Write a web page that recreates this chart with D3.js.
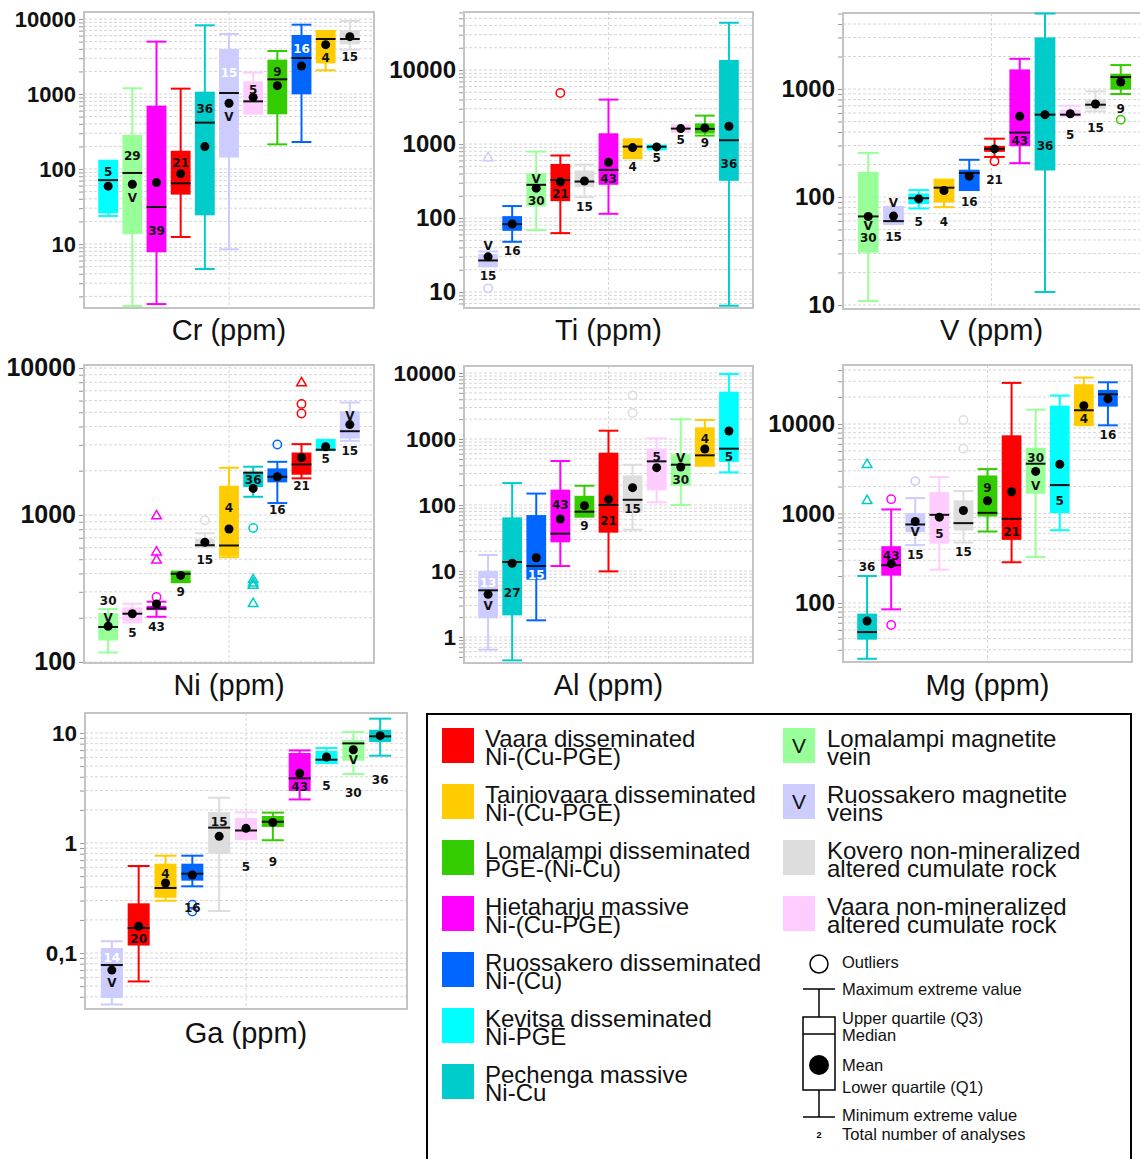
<!DOCTYPE html>
<html><head><meta charset="utf-8">
<script src="https://cdn.jsdelivr.net/npm/d3@7"></script>
<style>body{margin:0;background:#fff}</style>
</head><body><svg id="c" width="1140" height="1159"></svg>
<script>
// ---------- categories ----------
const groupKeys = ["VD","TD","LD","HM","RD","KD","PM","LV","RV","KO","VN"];
const groupColors = ["#ff0000","#ffcc00","#33cc00","#ff00ff","#0066ff","#00ffff","#00cccc","#99ff99","#ccccff","#dddddd","#ffccff"];
const legendLabels = [
  ["Vaara disseminated","Ni-(Cu-PGE)"],
  ["Tainiovaara disseminated","Ni-(Cu-PGE)"],
  ["Lomalampi disseminated","PGE-(Ni-Cu)"],
  ["Hietaharju massive","Ni-(Cu-PGE)"],
  ["Ruossakero disseminated","Ni-(Cu)"],
  ["Kevitsa disseminated","Ni-PGE"],
  ["Pechenga massive","Ni-Cu"],
  ["Lomalampi magnetite","vein"],
  ["Ruossakero magnetite","veins"],
  ["Kovero non-mineralized","altered cumulate rock"],
  ["Vaara non-mineralized","altered cumulate rock"]
];
const veinGroups = ["LV","RV"];
const boxKeyLabels = ["Outliers","Maximum extreme value","Upper quartile (Q3)","Median","Mean","Lower quartile (Q1)","Minimum extreme value","Total number of analyses"];

// ---------- data rows: [group, min, Q1, median, Q3, max, mean, n, n-label value, V-label value] ----------
const crRows = [
  ["KD",23.6,25.6,71,129,129,59,5,92,null],
  ["LV",1.49,13.6,88.5,284,1191,62.5,29,151,42],
  ["HM",1.58,7.74,31.1,699,4990,65.8,39,14.9,null],
  ["VD",12.4,45.5,64.4,175,1178,86.7,21,121,null],
  ["PM",4.64,24.1,415,1074,8240,199,36,644,null],
  ["RV",8.49,142,1031,3981,6310,752,15,1923,499],
  ["VN",547,547,798,1476,1923,903,5,1153,null],
  ["LD",213,536,1570,2872,3743,1291,9,1986,null],
  ["RD",229,990,3020,6120,8400,2360,16,3981,null],
  ["TD",2070,2564,5410,6920,6920,4550,4,3083,null],
  ["KO",3900,4590,5410,7060,9400,5810,15,3150,null]
];
const crOut = [];
const crWhite = ["RV","RD"];

const tiRows = [
  ["RV",22.2,22.2,26.7,32.5,35.3,29.9,15,16.7,42.5],
  ["RD",47.7,67.1,82.6,106,145,83,16,36,null],
  ["LV",68.5,143,281,403,791,253,30,173,338],
  ["VD",62.5,169,325,538,699,308,21,210,null],
  ["KO",191,261,311,438,527,316,15,143,null],
  ["HM",114,281,447,1397,3981,567,43,338,null],
  ["TD",643,643,923,1159,1159,895,4,495,null],
  ["KD",849,849,920,953,953,913,5,649,null],
  ["VN",1455,1455,1614,1791,1791,1614,5,1136,null],
  ["LD",1300,1381,1600,1905,2420,1650,9,1045,null],
  ["PM",6.53,318,1125,13650,43500,1738,36,550,null]
];
const tiOut = [["RV",649,"t"],["RV",11.2,"o"],["VD",4890,"o"]];
const tiWhite = [];

const vRows = [
  ["LV",10.9,30.5,66.1,171,256,66,30,42.3,53.7],
  ["RV",56.1,56.1,59.8,81.1,81.1,66.6,15,42.9,88.3],
  ["KD",78.3,85.9,97.5,108,116,96,5,58.9,null],
  ["TD",80.5,88.9,122,145,145,115,4,58.9,null],
  ["RD",116,116,167,179,221,156,16,89.6,null],
  ["VD",235,262,279,297,347,279,21,145,null],
  ["HM",206,295,395,1520,1905,559,43,335,null],
  ["PM",13.2,176,579,3006,5000,579,36,299,null],
  ["VN",558,558,579,644,701,591,5,381,null],
  ["KO",622,650,716,796,951,726,15,436,null],
  ["LD",899,986,1291,1386,1667,1161,9,653,null]
];
const vOut = [["VD",214,"o"],["LD",520,"o"]];
const vWhite = [];

const niRows = [
  ["LV",116,140,173,215,229,175,30,261,201],
  ["VN",186,190,213,235,249,213,5,159,null],
  ["HM",203,225,231,241,257,248,43,175,null],
  ["LD",349,349,398,412,412,388,9,302,null],
  ["KO",604,604,623,690,751,652,15,500,null],
  ["TD",516,527,620,1581,2094,803,4,1128,null],
  ["PM",1330,1548,1940,1967,2130,1517,36,1730,null],
  ["RD",1205,1667,1820,2075,2300,1820,16,1081,null],
  ["VD",1775,1879,2208,2661,3034,2460,21,1574,null],
  ["KD",2760,2760,2780,3243,3243,2910,5,2410,null],
  ["RV",3197,3311,3715,5080,5820,4121,15,2735,4770]
];
const niOut = [["HM",277,"o"],["HM",984,"t"],["HM",558,"t"],["HM",492,"t"],["KO",920,"o"],
  ["PM",817,"o"],["PM",362,"t"],["PM",344,"t"],["PM",331,"t"],["PM",249,"t"],["RD",3020,"o"],
  ["VD",5700,"o"],["VD",4900,"o"],["VD",7910,"t"]];
const niWhite = [];

const alRows = [
  ["RV",0.643,1.92,5.1,10,17.5,4.43,13,6.57,2.98],
  ["PM",0.443,2.13,13.7,65,215,13.1,27,4.64,null],
  ["RD",1.79,7.4,11.9,70.4,149,15.9,15,8.79,null],
  ["HM",11.9,27.2,36.8,171,464,61.4,43,101,null],
  ["LD",66.5,66.5,79.2,138,196,97.8,9,49.2,null],
  ["VD",9.88,38.1,100,621,1337,122,21,58,null],
  ["KO",42.3,76.6,120,281,408,183,15,88,null],
  ["VN",110,167,459,714,1023,368,5,546,null],
  ["LV",100,196,408,586,1986,377,30,242,527],
  ["TD",394,394,566,1503,1941,705,4,1023,null],
  ["KD",313,449,714,5214,9660,1322,5,546,null]
];
const alOut = [["KO",4590,"o"],["KO",2477,"o"]];
const alWhite = ["RV","RD"];

const mgRows = [
  ["PM",23.8,38.9,47.3,76,200,62.9,36,253,null],
  ["HM",84.9,202,264,431,1109,275,43,336,null],
  ["RV",443,618,754,1008,1486,813,15,344,624],
  ["VN",236,461,966,1734,2553,910,5,592,null],
  ["KO",473,646,780,1400,1778,1081,15,376,null],
  ["LD",629,925,1016,2661,3133,1387,9,1937,null],
  ["VD",285,507,871,7470,28770,1750,21,624,null],
  ["LV",327,1660,3597,5433,14470,2951,30,4198,2055],
  ["KD",650,1008,2075,16030,20760,3542,5,1387,null],
  ["TD",9700,9750,14230,27800,33000,16030,4,11570,null],
  ["RD",9660,15630,21480,24040,29230,19050,16,7660,null]
];
const mgOut = [["PM",3508,"t"],["PM",1387,"t"],["HM",1445,"o"],["HM",56.8,"o"],["RV",2300,"o"],["KO",11090,"o"],["KO",5295,"o"]];
const mgWhite = [];

const gaRows = [
  ["RV",0.0341,0.039,0.0778,0.111,0.128,0.07,14,0.090,0.054],
  ["VD",0.0552,0.117,0.169,0.283,0.618,0.175,20,0.134,null],
  ["TD",0.299,0.318,0.39,0.649,0.767,0.433,4,0.53,null],
  ["RD",0.404,0.455,0.526,0.649,0.767,0.512,16,0.257,null],
  ["KO",0.241,0.8,1.38,1.91,2.58,1.15,15,1.55,null],
  ["VN",1.09,1.09,1.3,1.69,1.9,1.36,5,0.605,null],
  ["LD",1.06,1.4,1.56,1.76,1.89,1.54,9,0.681,null],
  ["HM",2.49,2.97,3.87,6.58,6.95,4.3,43,3.25,null],
  ["KD",5.33,5.33,5.72,6.86,7.31,6.05,5,3.32,null],
  ["LV",4.24,5.6,8.05,8.64,10.2,7.05,30,2.87,5.73],
  ["PM",6.22,8.28,9.33,10.7,13.5,9.46,36,3.77,null]
];
const gaOut = [["RD",0.275,"o"],["RD",0.238,"o"]];
const gaWhite = ["RV"];

// ---------- layout (positions only) ----------
const layout = [
  {title:"Cr (ppm)", rows:crRows, out:crOut, white:crWhite, x0:84, x1:374, y0:12, y1:308, lo:1.40, hi:12400, fs:22, ty:340},
  {title:"Ti (ppm)", rows:tiRows, out:tiOut, white:tiWhite, x0:464, x1:753, y0:12, y1:308, lo:6.08, hi:60800, fs:24, ty:340},
  {title:"V (ppm)",  rows:vRows,  out:vOut,  white:vWhite,  x0:843, x1:1146, y0:13, y1:309, lo:9.18, hi:5060, fs:24, ty:340},
  {title:"Ni (ppm)", rows:niRows, out:niOut, white:niWhite, x0:84, x1:374, y0:365, y1:663, lo:98.4, hi:10480, fs:25, ty:695},
  {title:"Al (ppm)", rows:alRows, out:alOut, white:alWhite, x0:464, x1:753, y0:366, y1:663, lo:0.404, hi:12770, fs:22.5, ty:695},
  {title:"Mg (ppm)", rows:mgRows, out:mgOut, white:mgWhite, x0:843, x1:1132, y0:365, y1:662, lo:21.9, hi:45600, fs:24, ty:695},
  {title:"Ga (ppm)", rows:gaRows, out:gaOut, white:gaWhite, x0:85, x1:407, y0:713, y1:1009, lo:0.031, hi:15.2, fs:22.5, ty:1043}
];

const svg = d3.select("#c");
const colorOf = k => groupColors[groupKeys.indexOf(k)];
const isDecade = v => Math.abs(Math.log10(v) - Math.round(Math.log10(v))) < 1e-6;
const fmtTick = v => v >= 1 ? String(Math.round(v)) : String(+v.toPrecision(3)).replace(".", ",");

function drawPanel(p) {
  const g = svg.append("g");
  const x = d3.scalePoint().domain(d3.range(p.rows.length)).range([p.x0, p.x1]).padding(1);
  const bw = x.step() * 0.82;
  const y = d3.scaleLog().domain([p.lo, p.hi]).range([p.y1, p.y0]);

  g.append("rect").attr("x", p.x0).attr("y", p.y0).attr("width", p.x1 - p.x0).attr("height", p.y1 - p.y0).attr("fill", "#fff");

  const vals = [];
  const e0 = Math.floor(Math.log10(p.lo)), e1 = Math.ceil(Math.log10(p.hi));
  for (let e = e0; e <= e1; e++) for (let m = 1; m <= 9; m++) {
    const v = +(m * Math.pow(10, e)).toPrecision(6);
    if (v >= p.lo && v <= p.hi) vals.push(v);
  }
  g.selectAll(null).data(vals).join("line")
    .attr("x1", p.x0).attr("x2", p.x1).attr("y1", d => y(d)).attr("y2", d => y(d))
    .attr("stroke", "#d6d6d6").attr("stroke-width", 1).attr("stroke-dasharray", "3,2");
  const xm = (p.x0 + Math.min(p.x1, 1140 + (p.x1 - 1140))) / 2;
  g.append("line").attr("x1", (p.x0 + p.x1) / 2 - (p.x1 > 1140 ? 3 : 0)).attr("x2", (p.x0 + p.x1) / 2 - (p.x1 > 1140 ? 3 : 0))
    .attr("y1", p.y0).attr("y2", p.y1).attr("stroke", "#d6d6d6").attr("stroke-dasharray", "3,2");

  const ax = d3.axisLeft(y).tickValues(vals).tickSize(5).tickPadding(3)
    .tickFormat(v => isDecade(v) ? fmtTick(v) : "");
  const ag = g.append("g").attr("transform", `translate(${p.x0},0)`).call(ax);
  ag.select(".domain").remove();
  ag.selectAll(".tick line").attr("stroke", "#999");
  ag.selectAll(".tick text").attr("fill", "#111").style("font-family", "'Liberation Sans', Arial, sans-serif")
    .style("font-weight", "bold").style("font-size", p.fs + "px");

  g.append("rect").attr("x", p.x0).attr("y", p.y0).attr("width", p.x1 - p.x0).attr("height", p.y1 - p.y0)
    .attr("fill", "none").attr("stroke", "#c4c4c4").attr("stroke-width", 2);

  p.rows.forEach((r, i) => {
    const [k, mn, q1, md, q3, mx, mean, n, nAt, vAt] = r;
    const cx = x(i), c = colorOf(k);
    const bg = g.append("g");
    bg.append("line").attr("x1", cx).attr("x2", cx).attr("y1", y(mx)).attr("y2", y(mn)).attr("stroke", c).attr("stroke-width", 2);
    [mn, mx].forEach(v => bg.append("line").attr("x1", cx - bw / 2).attr("x2", cx + bw / 2)
      .attr("y1", y(v)).attr("y2", y(v)).attr("stroke", c).attr("stroke-width", 2));
    bg.append("rect").attr("x", cx - bw / 2).attr("y", y(q3)).attr("width", bw)
      .attr("height", Math.max(2, y(q1) - y(q3))).attr("fill", c);
    bg.append("line").attr("x1", cx - bw / 2).attr("x2", cx + bw / 2).attr("y1", y(md)).attr("y2", y(md))
      .attr("stroke", "#111").attr("stroke-width", 2);
    p.out.filter(o => o[0] === k).forEach(o => {
      if (o[2] === "t") {
        bg.append("path").attr("d", d3.symbol(d3.symbolTriangle, 40)())
          .attr("transform", `translate(${cx},${y(o[1])})`).attr("fill", "none").attr("stroke", c).attr("stroke-width", 1.5);
      } else {
        bg.append("circle").attr("cx", cx).attr("cy", y(o[1])).attr("r", 4.2).attr("fill", "none").attr("stroke", c).attr("stroke-width", 1.5);
      }
    });
    bg.append("circle").attr("cx", cx).attr("cy", y(mean)).attr("r", 4.5).attr("fill", "#000");
    bg.append("text").attr("x", cx).attr("y", y(nAt)).attr("dy", "0.36em").attr("text-anchor", "middle")
      .attr("fill", p.white.includes(k) ? "#fff" : "#111")
      .style("font-family", "'DejaVu Sans', Verdana, sans-serif").style("font-weight", "bold").style("font-size", "12px")
      .text(n);
    if (vAt != null) {
      bg.append("text").attr("x", cx).attr("y", y(vAt)).attr("dy", "0.36em").attr("text-anchor", "middle").attr("fill", "#111")
        .style("font-family", "'DejaVu Sans', Verdana, sans-serif").style("font-weight", "bold").style("font-size", "12px")
        .text("V");
    }
  });

  const tx = p.x1 > 1140 ? (p.x0 + 1140) / 2 : (p.x0 + p.x1) / 2;
  g.append("text").attr("x", tx).attr("y", p.ty).attr("text-anchor", "middle").attr("fill", "#111")
    .style("font-family", "'Liberation Sans', Arial, sans-serif").style("font-size", "29px").text(p.title);
}
layout.forEach(drawPanel);

// ---------- legend ----------
const lg = svg.append("g");
lg.append("rect").attr("x", 427).attr("y", 714).attr("width", 704).attr("height", 470)
  .attr("fill", "#fff").attr("stroke", "#000").attr("stroke-width", 2);
const leftKeys = ["VD","TD","LD","HM","RD","KD","PM"], rightKeys = ["LV","RV","KO","VN"];
function legendItem(k, sx, tx, top) {
  const i = groupKeys.indexOf(k);
  lg.append("rect").attr("x", sx).attr("y", top).attr("width", 32).attr("height", 35).attr("fill", groupColors[i]);
  if (veinGroups.includes(k)) {
    lg.append("text").attr("x", sx + 16).attr("y", top + 25).attr("text-anchor", "middle").attr("fill", "#111")
      .style("font-family", "'Liberation Sans', Arial, sans-serif").style("font-size", "21px").text("V");
  }
  legendLabels[i].forEach((t, j) => lg.append("text").attr("x", tx).attr("y", top + 19 + j * 18).attr("fill", "#111")
    .style("font-family", "'Liberation Sans', Arial, sans-serif").style("font-size", "24px").text(t));
}
leftKeys.forEach((k, j) => legendItem(k, 442, 485, 728 + j * 56));
rightKeys.forEach((k, j) => legendItem(k, 783, 827, 728 + j * 56));

// box explanation
const bx = 819, kfont = "'Liberation Sans', Arial, sans-serif";
lg.append("circle").attr("cx", bx).attr("cy", 964).attr("r", 9).attr("fill", "none").attr("stroke", "#000").attr("stroke-width", 1.5);
lg.append("line").attr("x1", bx).attr("x2", bx).attr("y1", 989).attr("y2", 1117).attr("stroke", "#000").attr("stroke-width", 1.5);
[989, 1117].forEach(v => lg.append("line").attr("x1", bx - 16).attr("x2", bx + 16).attr("y1", v).attr("y2", v).attr("stroke", "#000").attr("stroke-width", 1.5));
lg.append("rect").attr("x", bx - 16).attr("y", 1017).attr("width", 32).attr("height", 73).attr("fill", "#fff").attr("stroke", "#000").attr("stroke-width", 1.5);
lg.append("line").attr("x1", bx - 16).attr("x2", bx + 16).attr("y1", 1034).attr("y2", 1034).attr("stroke", "#000").attr("stroke-width", 1.5);
lg.append("circle").attr("cx", bx).attr("cy", 1065).attr("r", 10).attr("fill", "#000");
lg.append("text").attr("x", bx).attr("y", 1138).attr("text-anchor", "middle").style("font-family", kfont).style("font-size", "9px").style("font-weight", "bold").text("2");
const keyY = [968, 995, 1024, 1041, 1071, 1093, 1121, 1140];
boxKeyLabels.forEach((t, j) => lg.append("text").attr("x", 842).attr("y", keyY[j]).attr("fill", "#111")
  .style("font-family", kfont).style("font-size", "16.5px").text(t));
</script></body></html>
